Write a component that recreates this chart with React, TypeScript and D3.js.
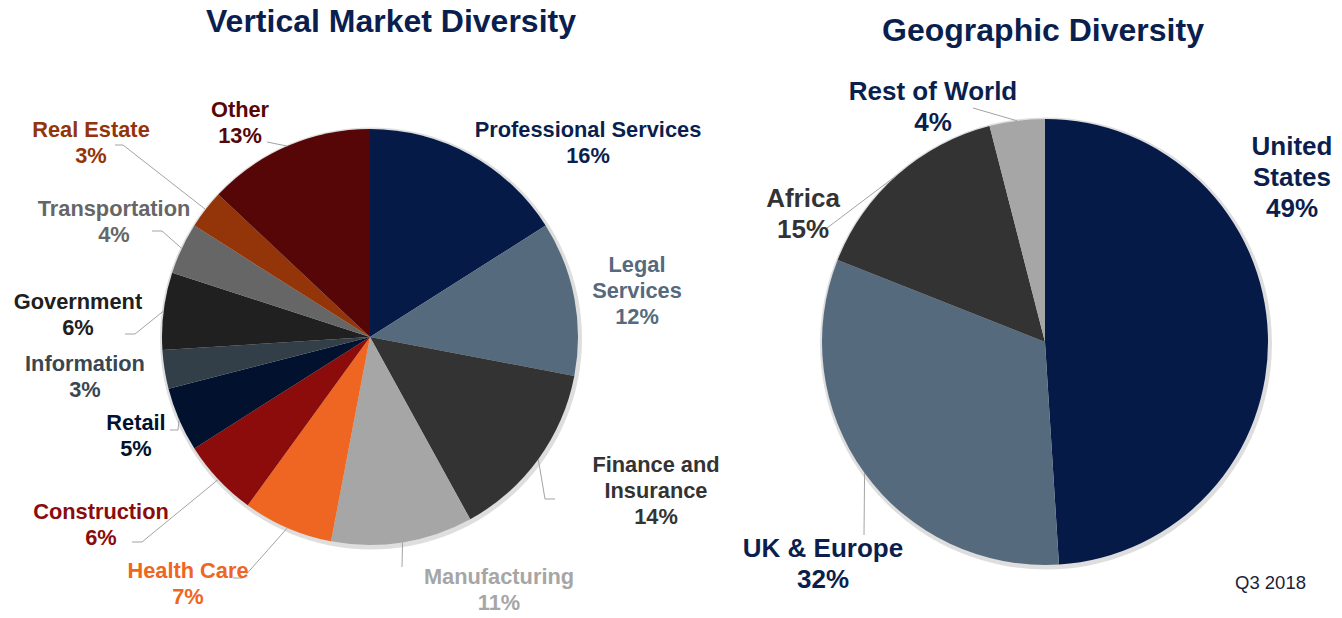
import * as React from 'react';
import * as d3 from 'd3';

// vertical market data (clockwise from 12 o'clock)
const verticalNames = [
    'Professional Services', 'Legal Services', 'Finance and Insurance', 'Manufacturing',
    'Health Care', 'Construction', 'Retail', 'Information', 'Government',
    'Transportation', 'Real Estate', 'Other',
];
const verticalValues = [16, 12, 14, 11, 7, 6, 5, 3, 6, 4, 3, 13];
const verticalLines = [
    ['Professional Services'], ['Legal', 'Services'], ['Finance and', 'Insurance'], ['Manufacturing'],
    ['Health Care'], ['Construction'], ['Retail'], ['Information'], ['Government'],
    ['Transportation'], ['Real Estate'], ['Other'],
];
const verticalColors = [
    '#061a47', '#566a7e', '#333333', '#a6a6a6', '#ee6622', '#8b0c0a',
    '#02122e', '#333f48', '#202020', '#666666', '#933509', '#560606',
];
const verticalTextColors = [
    '#0b1f4f', '#566a7e', '#333333', '#a6a6a6', '#ee6622', '#8b0c0a',
    '#02122e', '#3a4651', '#202020', '#666666', '#933509', '#560606',
];

// geographic data
const geoNames = ['United States', 'UK & Europe', 'Africa', 'Rest of World'];
const geoValues = [49, 32, 15, 4];
const geoLines = [['United', 'States'], ['UK & Europe'], ['Africa'], ['Rest of World']];
const geoColors = ['#061a47', '#566a7e', '#333333', '#a6a6a6'];
const geoTextColors = ['#0b1f4f', '#0b1f4f', '#333333', '#0b1f4f'];

// label placement: text centre x, first baseline y, leader elbow points (after the edge point)
const verticalLabelPos: Array<{x: number, y: number, leader: Array<[number, number]>}> = [
    {x: 588, y: 137, leader: []},
    {x: 637, y: 272, leader: []},
    {x: 656, y: 472, leader: [[545, 499], [555, 499]]},
    {x: 499, y: 584, leader: [[402, 567]]},
    {x: 188, y: 578, leader: [[243, 578], [233, 578]]},
    {x: 101, y: 519, leader: [[142, 542], [132, 542]]},
    {x: 136, y: 430, leader: [[178, 430], [170, 430]]},
    {x: 85, y: 371, leader: []},
    {x: 78, y: 309, leader: [[135, 334], [125, 334]]},
    {x: 114, y: 216, leader: [[162, 231], [152, 231]]},
    {x: 91, y: 137, leader: [[123, 145], [115, 145]]},
    {x: 240, y: 117, leader: [[267, 142]]},
];
const geoLabelPos: Array<{x: number, y: number, leader: Array<[number, number]>}> = [
    {x: 1292, y: 155, leader: []},
    {x: 823, y: 557, leader: [[864, 535]]},
    {x: 803, y: 207, leader: [[827, 228]]},
    {x: 933, y: 100, leader: [[973, 108]]},
];

const FONT = '"Liberation Sans", Arial, sans-serif';
const NAVY = '#0b1f4f';

interface PieProps {
    cx: number;
    cy: number;
    r: number;
    names: string[];
    values: number[];
    lines: string[][];
    colors: string[];
    textColors: string[];
    pos: Array<{x: number, y: number, leader: Array<[number, number]>}>;
    fontSize: number;
    lineHeight: number;
}

function Pie(props: PieProps) {
    const {cx, cy, r, names, values, lines, colors, textColors, pos, fontSize, lineHeight} = props;
    const pie = d3.pie<number>().sort(null).value(d => d);
    const arcs = pie(values);
    const arc = d3.arc<d3.PieArcDatum<number>>().innerRadius(0).outerRadius(r);
    const line = d3.line();

    return (
        <g>
            <circle cx={cx + 1} cy={cy + 1.5} r={r + 3} fill="#dedede" />
            <g transform={`translate(${cx},${cy})`}>
                {arcs.map((a, i) => (
                    <path key={names[i]} d={arc(a) || ''} fill={colors[i]} />
                ))}
            </g>
            {arcs.map((a, i) => {
                const mid = (a.startAngle + a.endAngle) / 2;
                const edge: [number, number] = [cx + r * Math.sin(mid), cy - r * Math.cos(mid)];
                const p = pos[i];
                const textLines = [...lines[i], `${values[i]}%`];
                return (
                    <g key={names[i] + '-label'}>
                        {p.leader.length > 0 && (
                            <path d={line([edge, ...p.leader]) || ''} fill="none" stroke="#a3a3a3" strokeWidth={1} />
                        )}
                        <text x={p.x} y={p.y} textAnchor="middle" fontFamily={FONT} fontWeight="bold"
                              fontSize={fontSize} fill={textColors[i]}>
                            {textLines.map((t, j) => (
                                <tspan key={j} x={p.x} dy={j === 0 ? 0 : lineHeight}>{t}</tspan>
                            ))}
                        </text>
                    </g>
                );
            })}
        </g>
    );
}

export default function App() {
    return (
        <svg width={1342} height={618} style={{position: 'absolute', left: 0, top: 0, background: '#fff'}}>
            <text x={391} y={32} textAnchor="middle" fontFamily={FONT} fontWeight="bold" fontSize={32} fill={NAVY}>
                Vertical Market Diversity
            </text>
            <text x={1043} y={41} textAnchor="middle" fontFamily={FONT} fontWeight="bold" fontSize={32} fill={NAVY}>
                Geographic Diversity
            </text>

            <Pie cx={370} cy={337} r={208} names={verticalNames} values={verticalValues} lines={verticalLines}
                 colors={verticalColors} textColors={verticalTextColors} pos={verticalLabelPos}
                 fontSize={21.8} lineHeight={26} />

            <Pie cx={1045} cy={342} r={223} names={geoNames} values={geoValues} lines={geoLines}
                 colors={geoColors} textColors={geoTextColors} pos={geoLabelPos}
                 fontSize={26} lineHeight={31} />

            <text x={1306} y={589} textAnchor="end" fontFamily={FONT} fontSize={18.5} fill="#1a2238">
                Q3 2018
            </text>
        </svg>
    );
}
